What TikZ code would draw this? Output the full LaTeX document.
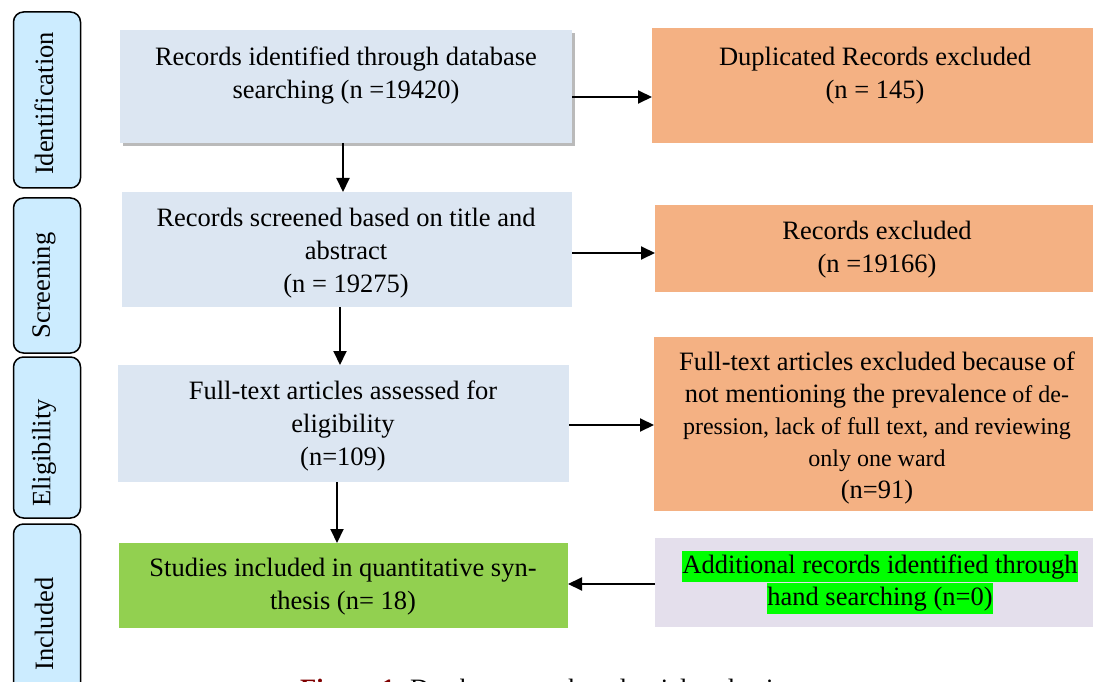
\documentclass[tikz,border=0pt]{standalone}
\usepackage{fontspec}
\setmainfont{Liberation Serif}
\usetikzlibrary{arrows.meta,shadows}
\definecolor{boxblue}{HTML}{DCE6F2}
\definecolor{boxorange}{HTML}{F4B183}
\definecolor{boxgreen}{HTML}{92D050}
\definecolor{boxlav}{HTML}{E4DFEC}
\definecolor{phaseblue}{HTML}{CCECFF}
\definecolor{hlgreen}{HTML}{00FF00}
\definecolor{capred}{HTML}{7F0000}
\newcommand\fsA{\fontsize{26.5}{33}\selectfont}
\newcommand\fsB{\fontsize{24}{32}\selectfont}
\newcommand\hlbox[1]{{\setlength{\fboxsep}{0pt}\colorbox{hlgreen}{\rule[-8pt]{0pt}{31pt}#1}}}
\begin{document}
\begin{tikzpicture}[x=1pt,y=-1pt,
  flowbox/.style={inner sep=0pt, outer sep=0pt, anchor=north west},
  lbl/.style={align=center, inner sep=0pt, font=\fsA},
  phase/.style={draw=black, line width=1.5pt, fill=phaseblue, rounded corners=10pt, minimum width=67pt, inner sep=0pt},
  phasetext/.style={rotate=90, inner sep=0pt, font=\fsA},
  arr/.style={line width=2pt, -{Triangle[length=14pt,width=13pt]}}
]
\clip (0,0) rectangle (1093,682);
\useasboundingbox (0,0) rectangle (1093,682);

% phase labels
\node[phase, minimum height=176pt] (pid) at (47,100) {};
\node[phase, minimum height=155pt] (psc) at (47,275.5) {};
\node[phase, minimum height=161pt] (pel) at (47,437.5) {};
\node[phase, minimum height=176pt] (pin) at (47,612) {};
\node[phasetext] (tid) at (44,103.5) {Identification};
\node[phasetext] (tsc) at (44,285.5) {Screening};
\node[phasetext] (tel) at (44,453) {Eligibility};
\node[phasetext] (tin) at (44,624) {Included};

% left boxes
\node[flowbox, fill=boxblue, minimum width=452pt, minimum height=113pt,
  drop shadow={shadow xshift=3pt, shadow yshift=-3pt, fill=black!45, opacity=0.6}] (b1) at (120,30) {};
\node[flowbox, fill=boxblue, minimum width=450pt, minimum height=115pt] (b2) at (122,192) {};
\node[flowbox, fill=boxblue, minimum width=451pt, minimum height=117pt] (b3) at (118,365) {};
\node[flowbox, fill=boxgreen, minimum width=449pt, minimum height=85pt] (b4) at (119,543) {};

% right boxes
\node[flowbox, fill=boxorange, minimum width=441pt, minimum height=115pt] (r1) at (652,28) {};
\node[flowbox, fill=boxorange, minimum width=438pt, minimum height=87pt] (r2) at (655,205) {};
\node[flowbox, fill=boxorange, minimum width=439pt, minimum height=174pt] (r3) at (654,337) {};
\node[flowbox, fill=boxlav, minimum width=438pt, minimum height=89pt] (r4) at (655,538) {};

% texts
\node[lbl] (t1) at (346,76) {Records identified through database\\searching (n =19420)};
\node[lbl] (t2) at (346,253) {Records screened based on title and\\abstract\\(n = 19275)};
\node[lbl] (t3) at (343,426) {Full-text articles assessed for\\eligibility\\(n=109)};
\node[lbl] (t4) at (343,587) {Studies included in quantitative syn-\\thesis (n= 18)};
\node[lbl] (tr1) at (875,76) {Duplicated Records excluded\\(n = 145)};
\node[lbl] (tr2) at (877,250) {Records excluded\\(n =19166)};
\node[lbl, font=\fsB] (tr3) at (877,428) {{\fsA Full-text articles excluded because of}\\{\fsA not mentioning the prevalence} of de-\\pression, lack of full text, and reviewing\\only one ward\\{\fsA (n=91)}};
\node[lbl, font=\fontsize{26.5}{32}\selectfont] (tr4) at (880,582) {\hlbox{Additional records identified through}\\\hlbox{hand searching (n=0)}};

% caption (cut off by the page edge, as in the reference)
\node[anchor=base west, inner sep=0pt, font=\fsA] (cap) at (300,697) {\textcolor{capred}{\textbf{Figure 1.}} Database search and article selection};

% horizontal connectors
\coordinate (h1) at ([yshift=-10.5pt]b1.east);
\draw[arr] (h1) -- (h1 -| r1.west);
\coordinate (h2) at ([yshift=-3.5pt]b2.east);
\draw[arr] (h2) -- (h2 -| r2.west);
\coordinate (h3) at ([yshift=-1.5pt]b3.east);
\draw[arr] (h3) -- (h3 -| r3.west);
\coordinate (h4) at ([yshift=-1.5pt]r4.west);
\draw[arr] (h4) -- (h4 -| b4.east);

% vertical connectors
\coordinate (v1) at ([xshift=-3pt]b1.south);
\draw[arr] (v1) -- (v1 |- b2.north);
\coordinate (v2) at ([xshift=-7pt]b2.south);
\draw[arr] (v2) -- (v2 |- b3.north);
\coordinate (v3) at ([xshift=-6.5pt]b3.south);
\draw[arr] (v3) -- (v3 |- b4.north);
\end{tikzpicture}
\end{document}
